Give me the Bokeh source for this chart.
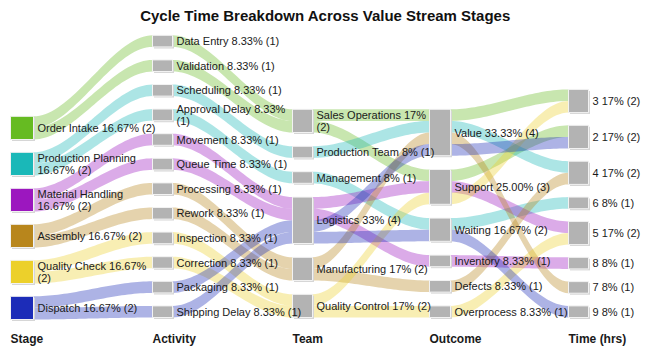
import numpy as np
from bokeh.plotting import figure
from bokeh.models import Range1d, ColumnDataSource
from bokeh.embed import file_html
from bokeh.resources import INLINE
from bokeh.core.properties import value

# ---------------- data ----------------
chart_title = "Cycle Time Breakdown Across Value Stream Stages"
dimensions = ["Stage", "Activity", "Team", "Outcome", "Time (hrs)"]

stages = ["Order Intake", "Production Planning", "Material Handling",
          "Assembly", "Quality Check", "Dispatch"]
stage_colors = ["#66bb22", "#1ab8b8", "#9c17bf", "#b8861c", "#ecd02b", "#1c2cb8"]

rec_stage = ["Order Intake", "Order Intake", "Production Planning", "Production Planning",
             "Material Handling", "Material Handling", "Assembly", "Assembly",
             "Quality Check", "Quality Check", "Dispatch", "Dispatch"]
rec_activity = ["Data Entry", "Validation", "Scheduling", "Approval Delay",
                "Movement", "Queue Time", "Processing", "Rework",
                "Inspection", "Correction", "Packaging", "Shipping Delay"]
rec_team = ["Sales Operations", "Sales Operations", "Production Team", "Management",
            "Logistics", "Logistics", "Manufacturing", "Manufacturing",
            "Quality Control", "Quality Control", "Logistics", "Logistics"]
rec_outcome = ["Value", "Support", "Value", "Waiting", "Support", "Inventory",
               "Value", "Defects", "Support", "Overprocess", "Value", "Waiting"]
rec_time = ["3", "2", "4", "6", "5", "8", "7", "4", "3", "5", "2", "9"]

pct_decimals = [2, 2, 0, 2, 0]
wrap_after_name = {"Production Planning", "Material Handling"}
wrap_before_count = {"Quality Check", "Approval Delay", "Sales Operations"}

# ---------------- layout ----------------
W, H = 650, 356
col_left = [10, 152, 292, 429, 568]
col_width = [23, 20, 20, 21, 20]
col_bottom = [319, 317, 317, 317, 317]
col_gap = [12.8, 13.0, 13.8, 13.8, 12.7]
unit = 11.6
ribbon_alpha = 0.36
node_gray = "#b3b3b3"
font = "Liberation Sans"

records = [rec_stage, rec_activity, rec_team, rec_outcome, rec_time]
n_rec = len(rec_stage)

# nodes per column (first appearance order)
col_nodes = []
for d, col in enumerate(records):
    order = []
    for v in col:
        if v not in order:
            order.append(v)
    col_nodes.append(order)

node_top = []  # dict per column
slot_top = [[0.0] * n_rec for _ in records]
for d, col in enumerate(records):
    nodes = col_nodes[d]
    counts = [col.count(nm) for nm in nodes]
    total = sum(counts) * unit + col_gap[d] * (len(nodes) - 1)
    y = col_bottom[d] - total
    tops = {}
    for nm, c in zip(nodes, counts):
        tops[nm] = y
        yy = y
        for r in range(n_rec):
            if col[r] == nm:
                slot_top[d][r] = yy
                yy += unit
        y += c * unit + col_gap[d]
    node_top.append(tops)

p = figure(width=W, height=H, x_range=Range1d(0, W), y_range=Range1d(H, 0),
           output_backend="svg", toolbar_location=None, min_border=0)
p.axis.visible = False
p.grid.visible = False
p.outline_line_color = None
p.background_fill_color = "white"

# ribbons
t = np.linspace(0, 1, 40)
def bez(a, b, t):
    # horizontal cubic bezier (ease) from a to b
    s = 3 * t**2 - 2 * t**3
    return a + (b - a) * s

rx, ry, rc = [], [], []
for d in range(len(records) - 1):
    x0 = col_left[d] + col_width[d]
    x1 = col_left[d + 1]
    xs_line = x0 + (x1 - x0) * t
    for r in range(n_rec):
        y0 = slot_top[d][r]
        y1 = slot_top[d + 1][r]
        top = bez(y0, y1, t)
        bot = top + unit
        rx.append(list(np.concatenate([xs_line, xs_line[::-1]])))
        ry.append(list(np.concatenate([top, bot[::-1]])))
        rc.append(stage_colors[stages.index(rec_stage[r])])
p.patches(xs=rx, ys=ry, fill_color=rc, fill_alpha=ribbon_alpha, line_color=None)

# nodes
lefts, rights, tops, bottoms, fills = [], [], [], [], []
lx, ly, lt = [], [], []
for d, col in enumerate(records):
    for nm in col_nodes[d]:
        c = col.count(nm)
        tp = node_top[d][nm]
        lefts.append(col_left[d]); rights.append(col_left[d] + col_width[d])
        tops.append(tp); bottoms.append(tp + c * unit)
        fills.append(stage_colors[stages.index(nm)] if d == 0 else node_gray)
        pct = 100.0 * c / n_rec
        pct_s = f"{pct:.{pct_decimals[d]}f}%"
        if nm in wrap_after_name:
            label = f"{nm}\n{pct_s} ({c})"
        elif nm in wrap_before_count:
            label = f"{nm} {pct_s}\n({c})"
        else:
            label = f"{nm} {pct_s} ({c})"
        lx.append(col_left[d] + col_width[d] + 4)
        ly.append(tp + c * unit / 2)
        lt.append(label)

p.quad(left=[l + 1.5 for l in lefts], right=[r + 1.5 for r in rights],
       top=[t_ + 1.5 for t_ in tops], bottom=[b + 1.5 for b in bottoms],
       fill_color="#d6d6d6", line_color=None)
p.quad(left=lefts, right=rights, top=tops, bottom=bottoms,
       fill_color=fills, line_color="#f2f2f2", line_width=1)

p.text(x=lx, y=ly, text=lt, text_font=value(font), text_font_size="11px",
       text_color="#1a1a1a", text_baseline="middle", text_align="left",
       text_line_height=1.0)

# column headers
p.text(x=col_left, y=[338] * len(col_left), text=dimensions, text_font=value(font),
       text_font_size="12px", text_font_style="bold", text_color="#1a1a1a",
       text_baseline="middle", text_align="left")

# title
p.text(x=[W / 2], y=[15], text=[chart_title], text_font=value(font),
       text_font_size="15px", text_font_style="bold", text_color="#111111",
       text_baseline="middle", text_align="center")

open("out.html", "w").write(file_html(p, INLINE))
